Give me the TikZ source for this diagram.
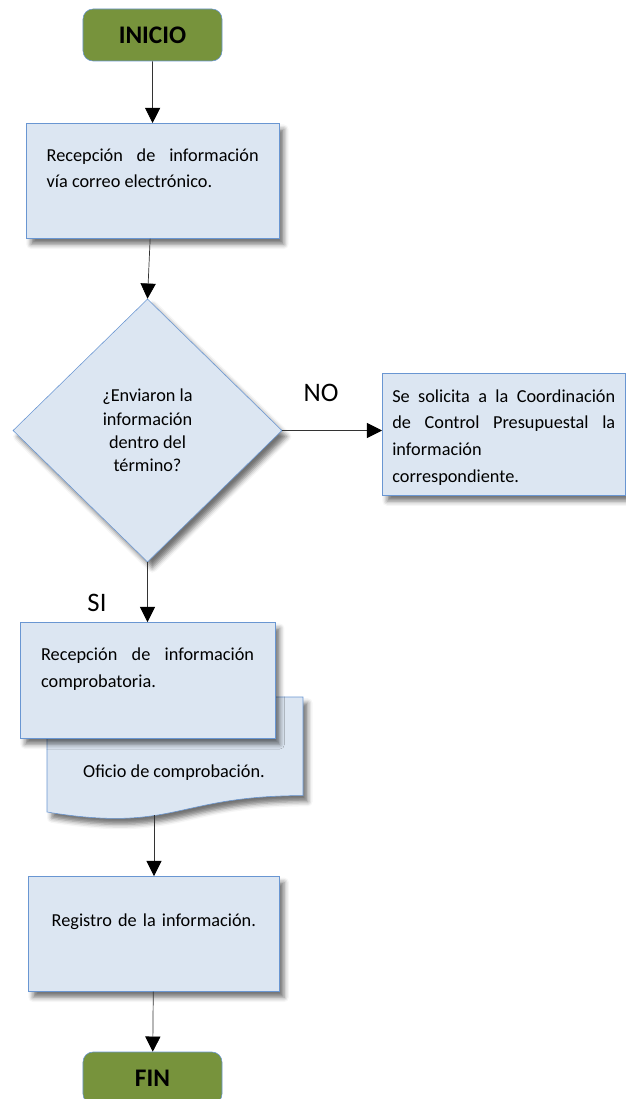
\documentclass[tikz,border=0pt]{standalone}
\usepackage{fontspec}
\setmainfont{Carlito}
\usepackage{tikz}
\usetikzlibrary{arrows.meta}
\usetikzlibrary{shapes.geometric, shadows.blur}
\definecolor{boxfill}{RGB}{220,230,242}
\definecolor{boxline}{RGB}{105,150,210}
\definecolor{termfill}{RGB}{119,147,60}

\begin{document}
\begin{tikzpicture}[x=0.25mm, y=-0.25mm,
				   sombra/.style={blur shadow={shadow xshift=1.2mm, shadow yshift=-1.5mm, shadow blur radius=1.2mm, shadow opacity=55}},
				   term/.style={rectangle, rounded corners=2.5mm, draw=boxline, fill=termfill, minimum width=34.75mm, minimum height=13mm, font=\fontsize{18}{20}\selectfont\bfseries},
				   proc/.style={rectangle, draw=boxline, fill=boxfill, sombra, anchor=north west, inner ysep=0pt, align=justify, font=\fontsize{13}{19}\selectfont},
				   decision/.style={diamond, draw=boxline, fill=boxfill, sombra, minimum width=67.25mm, minimum height=65.75mm, inner sep=0pt, align=center, font=\fontsize{13}{16.6}\selectfont},
				   etiq/.style={font=\fontsize{19}{21}\selectfont},
				   line/.style={black!80, line width=0.5pt, -{Triangle[width=3.8mm, length=3.8mm, black]}}]
\useasboundingbox (0,0) rectangle (626,1099);

\node[term] (ini) at (152.5,35) {INICIO};
\node[proc, inner xsep=5.1mm, text width=53mm, text height=9.5mm, text depth=19.25mm] (r1) at (26,123)
	{Recepción de información\linebreak vía correo electrónico.};
\node[decision] (dec) at (147.5,430.5) {¿Enviaron la\\información\\dentro del\\término?};
\node[proc, inner xsep=2.5mm, text width=55.75mm, text height=7.2mm, text depth=23.25mm] (sol) at (382,373)
	{\leftskip=2.25mm Se solicita a la Coordinación\linebreak de Control Presupuestal la\linebreak información\newline correspondiente.};

\draw[draw=boxline, fill=boxfill, sombra] (47,697) -- (303,697) -- (303,795.6)
	.. controls (175,795.6) and (175,833) .. (47,812) -- cycle;
\node[font=\fontsize{13}{19}\selectfont] (ofi) at (174,773) {Oficio de comprobación.};
\coordinate (docb) at (154,815);

\node[proc, inner xsep=5.2mm, text width=53.25mm, text height=9.5mm, text depth=19.5mm] (r3) at (20,622)
	{Recepción de información\linebreak comprobatoria.};
\node[proc, align=center, inner xsep=5mm, text width=52.75mm, text height=12.5mm, text depth=16.25mm] (r4) at (28,876)
	{Registro de la información.};
\node[term] (fin) at (152.5,1078) {FIN};

\node[etiq] (no) at (321,393) {NO};
\node[etiq] (si) at (97,603) {SI};

\draw[line] (ini) -- (r1);
\draw[line] (r1) -- (dec.north);
\draw[line] (dec.east) -- (dec.east -| sol.west);
\draw[line] (dec.south) -- (dec.south |- r3.north);
\draw[line] (docb) -- (docb |- r4.north);
\draw[line] (r4) -- (fin);
\end{tikzpicture}
\end{document}
